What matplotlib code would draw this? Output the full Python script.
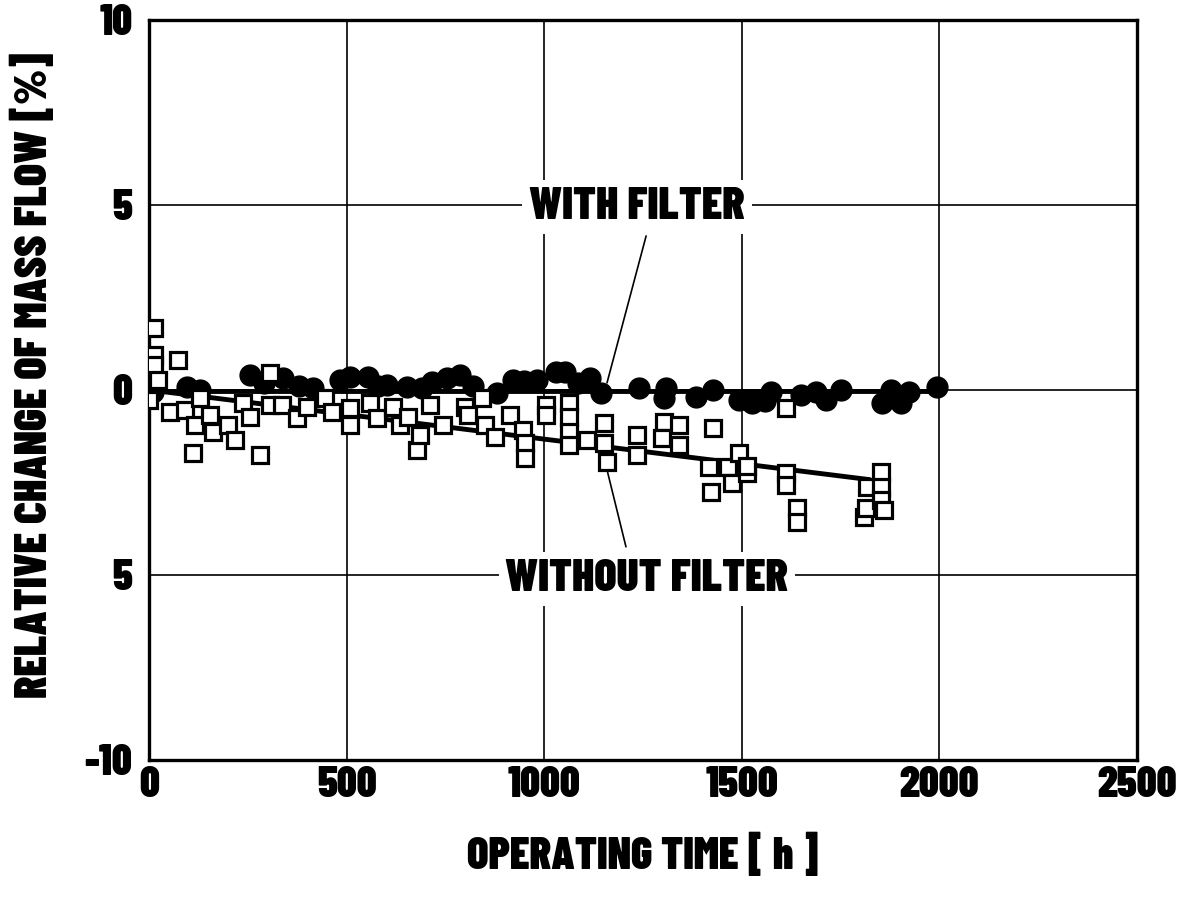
import matplotlib
matplotlib.use('Agg')
import matplotlib.pyplot as plt

plt.rcParams['font.family'] = ['Barlow Condensed', 'Open Sans Condensed', 'DejaVu Sans']
plt.rcParams['font.weight'] = 900
plt.rcParams['axes.labelweight'] = 900

# with filter (filled circles)
with_x = [10, 96, 130, 255, 290, 339, 380, 415, 483, 508, 554, 580, 602, 652,
          690, 716, 753, 786, 820, 880, 920, 950, 981, 1031, 1052, 1085, 1115,
          1145, 1241, 1304, 1309, 1385, 1426, 1494, 1527, 1560, 1575, 1651,
          1687, 1712, 1750, 1856, 1878, 1904, 1924, 1995]
with_y = [-0.05, 0.08, 0.0, 0.41, 0.2, 0.32, 0.1, 0.05, 0.27, 0.35, 0.35, 0.1,
          0.14, 0.08, 0.05, 0.22, 0.32, 0.41, 0.1, -0.08, 0.27, 0.25, 0.27,
          0.49, 0.49, 0.2, 0.32, -0.08, 0.05, -0.22, 0.05, -0.19, 0.0, -0.27,
          -0.35, -0.3, -0.05, -0.14, -0.05, -0.27, 0.0, -0.35, 0.0, -0.35,
          -0.05, 0.08]

# without filter (open squares)
without_x = [13, 13, 13, 23, 73, 0, 53, 91, 116, 111, 129, 154, 162, 200, 217,
             238, 255, 281, 306, 306, 336, 374, 400, 445, 463, 508, 508, 559,
             577, 617, 635, 655, 678, 685, 711, 743, 799, 807, 842, 850, 875,
             913, 946, 951, 951, 1005, 1005, 1064, 1064, 1064, 1064, 1109,
             1152, 1152, 1160, 1235, 1235, 1304, 1299, 1342, 1342, 1426, 1418,
             1423, 1464, 1476, 1494, 1514, 1514, 1613, 1613, 1613, 1641, 1641,
             1817, 1810, 1815, 1853, 1853, 1853, 1861]
without_y = [1.68, 0.95, 0.68, 0.27, 0.81, -0.27, -0.59, -0.54, -0.95, -1.70,
             -0.22, -0.68, -1.14, -0.95, -1.35, -0.35, -0.73, -1.76, 0.46,
             -0.41, -0.41, -0.76, -0.46, -0.22, -0.59, -0.49, -0.95, -0.35,
             -0.76, -0.46, -0.95, -0.73, -1.62, -1.22, -0.41, -0.95, -0.46,
             -0.68, -0.22, -0.95, -1.27, -0.68, -1.08, -1.43, -1.84, -0.41,
             -0.68, -0.35, -0.73, -1.14, -1.49, -1.35, -0.89, -1.43, -1.95,
             -1.22, -1.76, -0.86, -1.30, -0.95, -1.49, -1.03, -2.08, -2.76,
             -2.08, -2.51, -1.70, -2.24, -2.05, -0.49, -2.24, -2.57, -3.19,
             -3.57, -2.62, -3.43, -3.19, -2.22, -2.62, -2.97, -3.24]

# trend lines
with_fit_x = [0, 2000]
with_fit_y = [-0.02, -0.02]
without_fit_x = [0, 1820]
without_fit_y = [0.0, -2.42]

x_ticks = [0, 500, 1000, 1500, 2000, 2500]
y_ticks = [-10, -5, 0, 5, 10]
y_tick_labels = ['-10', '5', '0', '5', '10']

fig = plt.figure(figsize=(11.83, 9.01), dpi=100)
ax = fig.add_axes([0.126, 0.1565, 0.835, 0.8215])

ax.plot(with_fit_x, with_fit_y, color='k', linewidth=3.5, zorder=2)
ax.plot(without_fit_x, without_fit_y, color='k', linewidth=3.5, zorder=2)

ax.plot(with_x, with_y, linestyle='none', marker='o', markersize=15,
        markerfacecolor='k', markeredgecolor='k', zorder=3)
ax.plot(without_x, without_y, linestyle='none', marker='s', markersize=11,
        markerfacecolor='white', markeredgecolor='k', markeredgewidth=2.3,
        zorder=4)

ax.set_xlim(0, 2500)
ax.set_ylim(-10, 10)
ax.set_xticks(x_ticks)
ax.set_xticklabels([str(t) for t in x_ticks])
ax.set_yticks(y_ticks)
ax.set_yticklabels(y_tick_labels)
ax.tick_params(length=0, labelsize=31)
ax.tick_params(axis='y', pad=12)
ax.tick_params(axis='x', pad=4)

ax.grid(True, color='k', linewidth=1.2)
ax.set_axisbelow(True)
for sp in ax.spines.values():
    sp.set_linewidth(2.4)

ax.set_xlabel('OPERATING TIME [ h ]', fontsize=32, labelpad=20)
ax.set_ylabel('RELATIVE CHANGE OF MASS FLOW [%]', fontsize=33)
ax.yaxis.set_label_coords(-0.095, 0.52)

# labels with white background, leader lines to the point clouds
box = dict(facecolor='white', edgecolor='none', pad=5)
ax.text(1235, 4.95, 'WITH FILTER', fontsize=33, ha='center', va='center',
        bbox=box, zorder=5)
ax.text(1260, -5.1, 'WITHOUT FILTER', fontsize=33, ha='center', va='center',
        bbox=box, zorder=5)
ax.annotate('', xy=(1159, 0.19), xytext=(1258, 4.16),
            arrowprops=dict(arrowstyle='-', color='k', linewidth=1.2,
                            shrinkA=0, shrinkB=0), zorder=5)
ax.annotate('', xy=(1159, -2.16), xytext=(1207, -4.24),
            arrowprops=dict(arrowstyle='-', color='k', linewidth=1.2,
                            shrinkA=0, shrinkB=0), zorder=5)

fig.savefig('out.png', dpi=100)
